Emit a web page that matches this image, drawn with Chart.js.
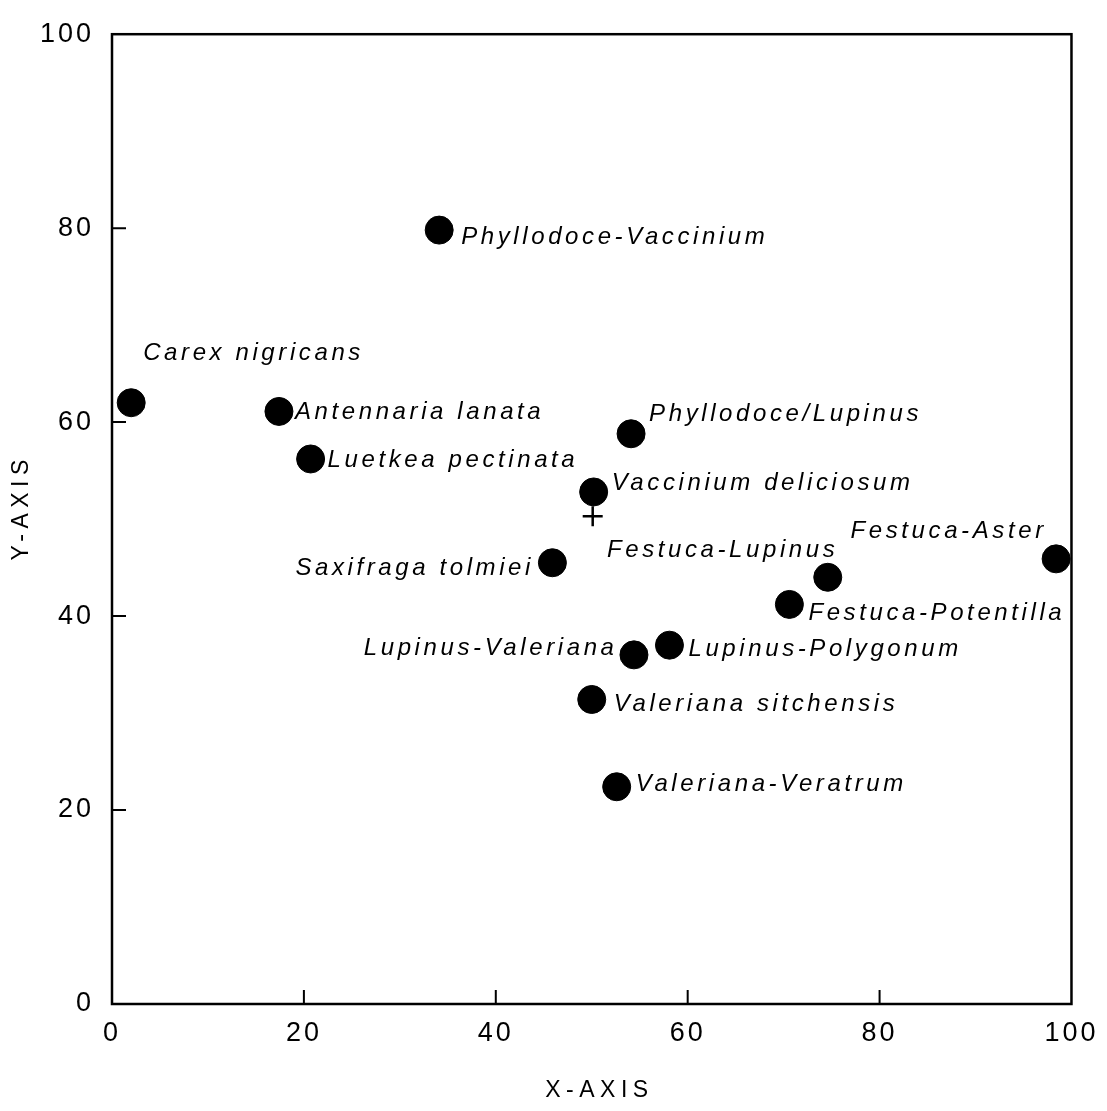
<!DOCTYPE html>
<html>
<head>
<meta charset="utf-8">
<script src="https://cdn.jsdelivr.net/npm/chart.js@4.4.1/dist/chart.umd.min.js"></script>
<style>
  html, body { margin: 0; padding: 0; background: #fff; }
  #wrap { width: 1107px; height: 1111px; position: relative; }
</style>
</head>
<body>
<div id="wrap"><canvas id="c" width="1107" height="1111"></canvas></div>
<script>
// ---- data ----
const communities = [
  "Carex nigricans", "Antennaria lanata", "Luetkea pectinata", "Phyllodoce-Vaccinium",
  "Phyllodoce/Lupinus", "Vaccinium deliciosum", "Saxifraga tolmiei", "Festuca-Lupinus",
  "Festuca-Aster", "Festuca-Potentilla", "Lupinus-Polygonum", "Lupinus-Valeriana",
  "Valeriana sitchensis", "Valeriana-Veratrum"
];
const xValues = [2.0, 17.4, 20.7, 34.1, 54.1, 50.2, 45.9, 74.6, 98.4, 70.6, 58.1, 54.4, 50.0, 52.6];
const yValues = [62.0, 61.1, 56.2, 79.8, 58.8, 52.8, 45.5, 44.0, 45.9, 41.2, 37.0, 36.0, 31.4, 22.4];
const centroidX = [50.1];
const centroidY = [50.3];
const tickValues = [0, 20, 40, 60, 80, 100];
const xTitle = "X-AXIS";
const yTitle = "Y-AXIS";

// ---- label placement (style only) ----
const labelPlacement = [
  {dx: 12, dy: -49, align: "left"},
  {dx: 16, dy: 1, align: "left"},
  {dx: 17, dy: 1, align: "left"},
  {dx: 22, dy: 7, align: "left"},
  {dx: 18, dy: -19, align: "left"},
  {dx: 18, dy: -9, align: "left"},
  {dx: -22, dy: 6, align: "right"},
  {dx: 7, dy: -27, align: "right"},
  {dx: -13, dy: -28, align: "right"},
  {dx: 19, dy: 9, align: "left"},
  {dx: 19, dy: 4, align: "left"},
  {dx: -20, dy: -7, align: "right"},
  {dx: 22, dy: 5, align: "left"},
  {dx: 19, dy: -2, align: "left"}
];

const FONT = "'Liberation Sans', 'DejaVu Sans', sans-serif";
const LABEL_SPACING = 3.6;
const TITLE_SPACING = 5.5;

const spacingPlugin = {
  id: 'spacing',
  beforeDraw(chart) { chart.ctx.letterSpacing = '3px'; }
};

const framePlugin = {
  id: 'frame',
  afterDraw(chart) {
    const {ctx, chartArea: a, scales: {x, y}} = chart;
    ctx.save();
    ctx.strokeStyle = '#000';
    ctx.lineWidth = 2.5;
    ctx.strokeRect(a.left, a.top, a.right - a.left, a.bottom - a.top);
    ctx.lineWidth = 2;
    ctx.beginPath();
    tickValues.forEach(v => {
      if (v > 0 && v < 100) {
        const px = x.getPixelForValue(v);
        ctx.moveTo(px, a.bottom); ctx.lineTo(px, a.bottom - 14);
        const py = y.getPixelForValue(v);
        ctx.moveTo(a.left, py); ctx.lineTo(a.left + 14, py);
      }
    });
    ctx.stroke();

    ctx.fillStyle = '#000';
    // axis titles
    ctx.font = "23px " + FONT;
    ctx.letterSpacing = TITLE_SPACING + 'px';
    ctx.textAlign = 'center';
    ctx.textBaseline = 'middle';
    ctx.fillText(xTitle, (a.left + a.right) / 2 + TITLE_SPACING / 2 + 5, 1091);
    ctx.save();
    ctx.translate(22, (a.top + a.bottom) / 2 - 9);
    ctx.rotate(-Math.PI / 2);
    ctx.fillText(yTitle, TITLE_SPACING / 2, 0);
    ctx.restore();

    // point labels
    ctx.font = "italic 24px " + FONT;
    ctx.letterSpacing = LABEL_SPACING + 'px';
    const meta = chart.getDatasetMeta(0);
    meta.data.forEach((pt, i) => {
      const p = labelPlacement[i];
      ctx.textAlign = p.align;
      const extra = p.align === 'right' ? LABEL_SPACING : 0;
      ctx.fillText(communities[i], pt.x + p.dx + extra, pt.y + p.dy);
    });
    ctx.restore();
  }
};

new Chart(document.getElementById('c'), {
  type: 'scatter',
  data: {
    datasets: [
      {
        data: xValues.map((v, i) => ({x: v, y: yValues[i]})),
        backgroundColor: '#000',
        borderColor: '#000',
        pointRadius: 14,
        pointHoverRadius: 14
      },
      {
        data: centroidX.map((v, i) => ({x: v, y: centroidY[i]})),
        pointStyle: 'cross',
        pointRadius: 10,
        borderColor: '#000',
        borderWidth: 2.5
      }
    ]
  },
  options: {
    responsive: false,
    animation: false,
    events: [],
    layout: {padding: {top: 32, right: 31, left: 0, bottom: 0}},
    plugins: {legend: {display: false}, tooltip: {enabled: false}},
    scales: {
      x: {
        type: 'linear', min: 0, max: 100,
        afterBuildTicks(s) { s.ticks = tickValues.map(v => ({value: v})); },
        afterFit(s) { s.height = 107; },
        grid: {display: false, drawTicks: false},
        border: {display: false},
        ticks: {color: '#000', font: {family: FONT, size: 27}, padding: 13, maxRotation: 0},
        title: {display: false}
      },
      y: {
        type: 'linear', min: 0, max: 100,
        afterBuildTicks(s) { s.ticks = tickValues.map(v => ({value: v})); },
        afterFit(s) { s.width = 112; },
        grid: {display: false, drawTicks: false},
        border: {display: false},
        ticks: {color: '#000', font: {family: FONT, size: 27}, padding: 18},
        title: {display: false}
      }
    }
  },
  plugins: [spacingPlugin, framePlugin]
});
</script>
</body>
</html>
